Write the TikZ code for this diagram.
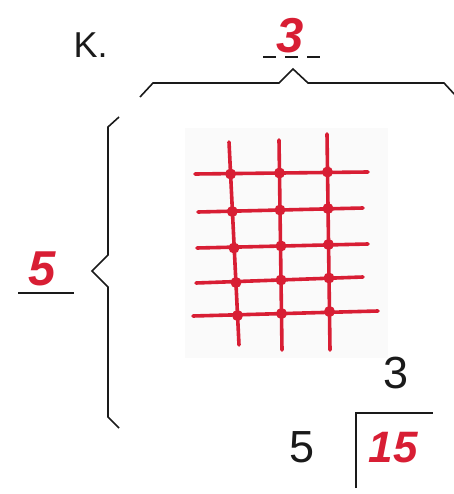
\documentclass[tikz,border=0pt]{standalone}
\usepackage{fontspec}
\setmainfont{Liberation Sans}
\definecolor{Cr}{HTML}{D81E34}
\definecolor{Ck}{HTML}{1A1A1A}

\begin{document}
\begin{tikzpicture}[x=1pt, y=-1pt,
	brace/.style={Ck, line width=1.6pt, line join=miter},
	gridline/.style={Cr, line width=3.6pt, line cap=round},
	knot/.style={circle, fill=Cr, inner sep=0pt, minimum size=11pt}]
	
	\useasboundingbox (0,0) rectangle (453,494);
	
	%% pasted picture background
	\fill[black!2] (185,128) rectangle (388,358);
	
	%% ── labels ──────────────────────────────────────────
	\node[font=\fontsize{36}{40}\selectfont, Ck, anchor=base west] (klab) at (70,58) {K.};
	\node[font=\fontsize{49}{52}\selectfont\bfseries\itshape, Cr, anchor=base] (three) at (290,53) {3};
	\node[font=\fontsize{49}{52}\selectfont\bfseries\itshape, Cr, anchor=base] (five) at (42,285) {5};
	
	%% answer blanks
	\draw[Ck, line width=1.6pt, dash pattern=on 13pt off 9pt] (263,57) -- (322,57);
	\draw[Ck, line width=1.6pt] (18,293) -- (74,293);
	
	%% ── braces ──────────────────────────────────────────
	\draw[brace] (140,97) -- (153,83) -- (279,83) -- (293,69) -- (308,83)
	-- (444,83) -- (456,96);
	\draw[brace] (119,117) -- (108,127) -- (108,255) -- (92,271) -- (108,287)
	-- (108,417) -- (119,428);
	
	%% ── red grid: 3 columns, 5 rows ─────────────────────
	\foreach \i/\xt/\yt/\xb/\yb in {1/229/142/239/345, 2/279/140/282/350, 3/327/134/330/350}{
		\coordinate (ct\i) at (\xt,\yt);
		\coordinate (cb\i) at (\xb,\yb);
		\draw[gridline] (ct\i) -- (cb\i);
	}
	\foreach \j/\xl/\yl/\xr/\yr in {1/195/174/368/172, 2/198/212/363/208, 3/197/248/368/244,
		4/196/283/363/277, 5/193/316/378/311}{
		\coordinate (rl\j) at (\xl,\yl);
		\coordinate (rr\j) at (\xr,\yr);
		\draw[gridline] (rl\j) -- (rr\j);
	}
	%% knots where the lines cross
	\foreach \n/\x/\y in {11/230.6/174, 21/279.5/173, 31/327.5/172,
		12/232.3/211.5, 22/280/210, 32/328/208.5,
		13/234/248, 23/281/246, 33/328.5/244.5,
		14/236/282.5, 24/281/280, 34/329/278,
		15/237.5/315.5, 25/281.5/313.5, 35/329.5/311.5}
	\node[knot] (k\n) at (\x,\y) {};
	
	%% ── division 15 / 5 = 3 ─────────────────────────────
	\node[font=\fontsize{45}{48}\selectfont, Ck, anchor=base] (quot) at (396,388) {3};
	\node[font=\fontsize{45}{48}\selectfont, Ck, anchor=base] (divisor) at (302,462) {5};
	\node[font=\fontsize{44}{48}\selectfont\bfseries\itshape, Cr, anchor=base] (dividend) at (393,462) {15};
	\draw[Ck, line width=1.8pt] (356,488) -- (356,413) -- (433,413);
	
\end{tikzpicture}
\end{document}
